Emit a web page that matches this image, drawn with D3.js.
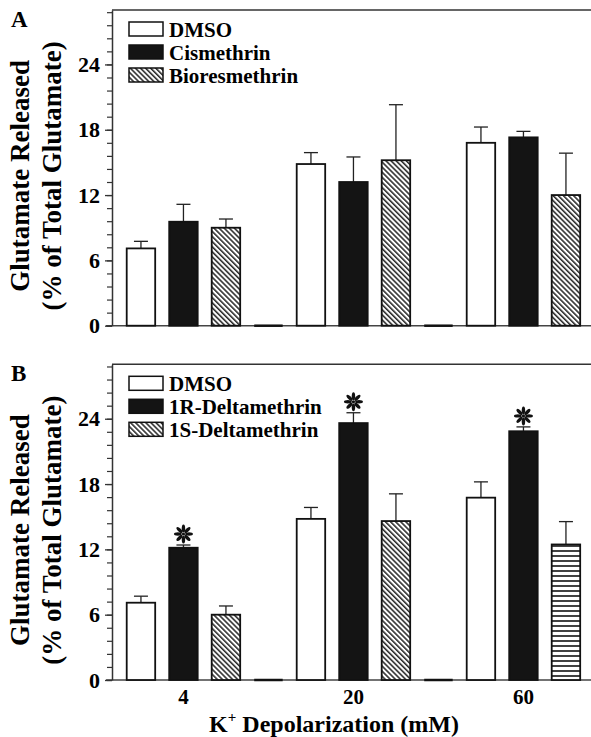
<!DOCTYPE html>
<html>
<head>
<meta charset="utf-8">
<script src="https://cdn.jsdelivr.net/npm/d3@7"></script>
<style>
  body { margin: 0; background: #fff; }
  text { font-family: "Liberation Serif", "Times New Roman", serif; font-weight: bold; fill: #000; }
</style>
</head>
<body>
<svg id="chart" width="591" height="737"></svg>
<script>
// data (means and SEM, % of total glutamate)
const doses = ["4", "20", "60"];
const seriesA = ["DMSO", "Cismethrin", "Bioresmethrin"];
const meanA = [[7.1, 14.85, 16.8], [9.55, 13.2, 17.3], [9.0, 15.2, 12.0]];
const errA = [[0.65, 1.05, 1.45], [1.6, 2.3, 0.55], [0.8, 5.1, 3.85]];
const seriesB = ["DMSO", "1R-Deltamethrin", "1S-Deltamethrin"];
const meanB = [[7.1, 14.8, 16.75], [12.15, 23.6, 22.85], [6.0, 14.6, 12.45]];
const errB = [[0.6, 1.05, 1.45], [0.25, 0.95, 0.4], [0.8, 2.5, 2.1]];
const starB = [[0, 0, 0], [1, 1, 1], [0, 0, 0]];
const yTicks = [0, 6, 12, 18, 24];
const yMax = 29;

let svg = d3.select("#chart");
let defs = svg.append("defs");

// diagonal hatch
let diag = defs.append("pattern").
attr("id", "diag").
attr("patternUnits", "userSpaceOnUse").
attr("width", 3.6).
attr("height", 3.6).
attr("patternTransform", "rotate(-45)");
diag.append("rect").attr("width", 3.6).attr("height", 3.6).attr("fill", "#fff");
diag.append("line").attr("x1", 0.8).attr("x2", 0.8).attr("y1", 0).attr("y2", 3.6).
attr("stroke", "#111").attr("stroke-width", 1.4);

// horizontal stripes
let horiz = defs.append("pattern").
attr("id", "horiz").
attr("patternUnits", "userSpaceOnUse").
attr("width", 6).
attr("height", 5);
horiz.append("rect").attr("width", 6).attr("height", 5).attr("fill", "#fff");
horiz.append("line").attr("x1", 0).attr("x2", 6).attr("y1", 1).attr("y2", 1).
attr("stroke", "#111").attr("stroke-width", 1.6);

function fillFor(s, g, panel) {
  if (s === 0) return "#fff";
  if (s === 1) return "#141414";
  if (panel === "B" && g === 2) return "url(#horiz)";
  return "url(#diag)";
}

function drawPanel(p) {
  let left = 112, right = 591;
  let y = d3.scaleLinear().domain([0, yMax]).range([p.bottom, p.top]);
  let xg = d3.scaleBand().domain(doses).range([119.7, 629.7]);
  let xs = d3.scaleBand().domain([0, 1, 2, 3]).range([0, xg.bandwidth()]).
  paddingInner(0.33).paddingOuter(0.165);
  let bw = xs.bandwidth();

  let g = svg.append("g");

  // top frame + baseline
  g.append("line").attr("x1", left).attr("x2", right).attr("y1", p.top).attr("y2", p.top).
  attr("stroke", "#333").attr("stroke-width", 1.5);
  g.append("line").attr("x1", left - 6).attr("x2", right).attr("y1", y(0)).attr("y2", y(0)).
  attr("stroke", "#444").attr("stroke-width", 1.5);

  // minor ticks
  g.append("g").
  attr("transform", `translate(${left},0)`).
  call(d3.axisLeft(y).tickValues(d3.range(0, yMax, 1.2)).tickSize(5).tickSizeOuter(0).tickFormat("")).
  call(a => a.select(".domain").remove()).
  call(a => a.selectAll("line").attr("stroke", "#333").attr("stroke-width", 1.2));

  // major ticks
  g.append("g").
  attr("transform", `translate(${left},0)`).
  call(d3.axisLeft(y).tickValues(yTicks).tickSize(7).tickSizeOuter(0).tickPadding(5)).
  call(a => a.select(".domain").attr("stroke", "#333").attr("stroke-width", 1.5)).
  call(a => a.selectAll("line").attr("stroke", "#333").attr("stroke-width", 1.3)).
  call(a => a.selectAll("text").attr("font-size", 22).attr("font-family", null).attr("fill", "#000"));

  // bars
  let rows = [];
  p.series.forEach((name, s) => {
    doses.forEach((d, gi) => {
      rows.push({ s: s, g: gi, dose: d, mean: p.mean[s][gi], err: p.err[s][gi],
        star: p.stars ? p.stars[s][gi] : 0 });
    });
  });

  let bar = g.selectAll(".bar").data(rows).enter().append("g").attr("class", "bar");

  // error bars (drawn first so bars cover the stem)
  bar.append("line").
  attr("x1", d => xg(d.dose) + xs(d.s) + bw / 2).
  attr("x2", d => xg(d.dose) + xs(d.s) + bw / 2).
  attr("y1", d => y(d.mean)).
  attr("y2", d => y(d.mean + d.err)).
  attr("stroke", "#222").attr("stroke-width", 1.3);
  bar.append("line").
  attr("x1", d => xg(d.dose) + xs(d.s) + bw / 2 - 7).
  attr("x2", d => xg(d.dose) + xs(d.s) + bw / 2 + 7).
  attr("y1", d => y(d.mean + d.err)).
  attr("y2", d => y(d.mean + d.err)).
  attr("stroke", "#222").attr("stroke-width", 1.3);

  bar.append("rect").
  attr("x", d => xg(d.dose) + xs(d.s)).
  attr("y", d => y(d.mean)).
  attr("width", bw).
  attr("height", d => y(0) - y(d.mean)).
  attr("fill", d => fillFor(d.s, d.g, p.label)).
  attr("stroke", "#111").
  attr("stroke-width", 1.8);

  // empty spacer slot after each group
  g.selectAll(".gap").data(doses).enter().append("line").
  attr("x1", d => xg(d) + xs(3)).
  attr("x2", d => xg(d) + xs(3) + bw).
  attr("y1", y(0)).attr("y2", y(0)).
  attr("stroke", "#111").attr("stroke-width", 2.5);

  // significance stars
  let stars = g.selectAll(".star").data(rows.filter(d => d.star)).enter().append("g").
  attr("transform", d => `translate(${xg(d.dose) + xs(d.s) + bw / 2},${y(d.mean + d.err) - 11})`);
  stars.selectAll("ellipse").data(d3.range(8)).enter().append("ellipse").
  attr("cx", 0).attr("cy", -5.6).attr("rx", 1.7).attr("ry", 3.9).
  attr("transform", k => `rotate(${k * 45})`).
  attr("fill", "#111");
  stars.append("circle").attr("r", 1.6).attr("fill", "#111");

  // legend
  let leg = g.selectAll(".legend").data(p.series).enter().append("g").
  attr("transform", (d, i) => `translate(${left + 17},${p.top + 12 + i * 23})`);
  leg.append("rect").
  attr("width", 34).attr("height", 14).
  attr("fill", (d, i) => fillFor(i, 0, p.label)).
  attr("stroke", "#111").attr("stroke-width", 1.5);
  leg.append("text").
  attr("x", 40).attr("y", 14.5).
  attr("font-size", 21).
  text(d => d);

  // panel letter
  g.append("text").attr("x", 11).attr("y", p.top + 17).attr("font-size", 23).text(p.label);

  // y title
  let cy = (p.top + p.bottom) / 2 + 8;
  let yt = g.append("g").attr("transform", `translate(0,${cy}) rotate(-90)`);
  yt.append("text").attr("x", 0).attr("y", 29).attr("text-anchor", "middle").
  attr("font-size", 27).text("Glutamate Released");
  yt.append("text").attr("x", 0).attr("y", 61).attr("text-anchor", "middle").
  attr("font-size", 27).text("(% of Total Glutamate)");

  if (p.showX) {
    g.selectAll(".xlab").data(doses).enter().append("text").
    attr("x", d => xg(d) + xs(1) + bw / 2).
    attr("y", p.bottom + 24).
    attr("text-anchor", "middle").
    attr("font-size", 21).
    text(d => d);
    let xt = g.append("text").attr("x", 334).attr("y", 732).attr("text-anchor", "middle").attr("font-size", 24);
    xt.append("tspan").text("K");
    xt.append("tspan").attr("font-size", 15).attr("dy", -10).text("+");
    xt.append("tspan").attr("dy", 10).text(" Depolarization (mM)");
  }
}

drawPanel({ label: "A", top: 10, bottom: 325.7, series: seriesA, mean: meanA, err: errA, showX: false });
drawPanel({ label: "B", top: 364.3, bottom: 680, series: seriesB, mean: meanB, err: errB, stars: starB, showX: true });
</script>
</body>
</html>
